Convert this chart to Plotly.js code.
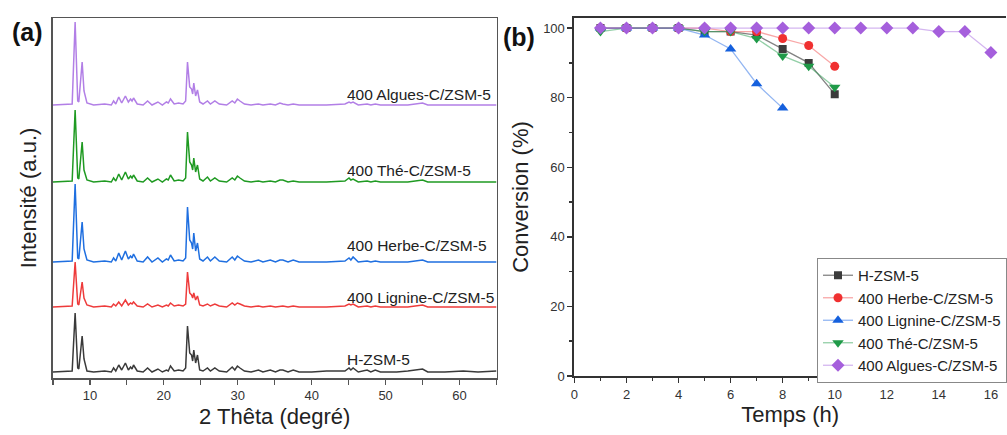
<!DOCTYPE html>
<html><head><meta charset="utf-8">
<script src="https://cdn.plot.ly/plotly-3.0.1.min.js"></script>
<style>html,body{margin:0;padding:0;overflow:hidden;background:#fff}#chart{width:1007px;height:435px}</style>
</head><body><div id="chart"></div>
<script>
// ---------- Panel (a): XRD patterns ----------
const twoTheta = [5, 6.5, 7.6, 8.0, 8.35, 8.5, 8.95, 9.2, 9.6, 10.5,
  12.0, 12.9, 13.2, 13.5, 13.9, 14.3, 14.8, 15.2, 15.5, 15.7,
  15.9, 16.4, 17.2, 17.8, 18.4, 19.2, 19.8, 20.35, 20.6, 20.9,
  21.4, 22.0, 22.6, 22.95, 23.2, 23.5, 23.75, 23.9, 24.05, 24.3,
  24.55, 24.85, 25.3, 25.9, 26.3, 26.9, 27.5, 28.5, 29.25, 29.6,
  29.95, 30.3, 30.9, 31.8, 32.8, 33.4, 34.4, 35.1, 35.7, 36.1,
  36.8, 37.5, 38.3, 40.0, 42.0, 44.5, 45.05, 45.3, 45.6, 46.3,
  47.5, 48.0, 48.6, 49.3, 51.5, 53.0, 55.0, 55.7, 58.0, 60.5,
  62.5, 65];

const xrdHZSM5 = [1, 2, 2, 60, 5, 4, 37, 14, 2, 1,
  2, 1, 5, 2, 8, 3, 10, 3, 6, 4,
  8, 2, 1, 5, 1, 4, 1, 3, 2, 7,
  2, 3, 2, 5, 47, 20, 18, 12, 23, 10,
  18, 3, 2, 5, 2, 5, 2, 1, 6, 3,
  7, 5, 2, 1, 3, 1, 3, 1, 3, 3,
  1, 3, 1, 1, 2, 2, 5, 3, 5, 1,
  3, 1, 3, 1, 1, 2, 4, 1, 1, 2,
  1, 2];
const xrdLignine = [0, 1, 1, 45, 3, 2, 25, 9, 2, 0,
  1, 0, 3, 1, 5, 1, 7, 2, 4, 3,
  5, 1, 0, 3, 0, 2, 0, 2, 1, 4,
  1, 2, 1, 3, 35, 14, 12, 9, 14, 7,
  11, 2, 1, 3, 1, 3, 1, 0, 4, 2,
  4, 3, 1, 0, 1, 0, 1, 0, 1, 1,
  0, 1, 0, 0, 0, 1, 3, 2, 3, 0,
  1, 0, 1, 0, 0, 0, 2, 0, 0, 0,
  0, 0];
const xrdHerbe = [0, 1, 1, 78, 4, 3, 40, 13, 2, 0,
  1, 0, 4, 1, 9, 2, 11, 3, 6, 4,
  8, 1, 0, 5, 0, 4, 0, 3, 2, 7,
  1, 2, 1, 4, 55, 22, 19, 13, 29, 11,
  19, 3, 1, 5, 1, 5, 1, 0, 5, 2,
  6, 4, 1, 0, 2, 0, 2, 0, 2, 2,
  0, 2, 0, 0, 0, 1, 4, 2, 5, 0,
  1, 0, 1, 0, 0, 0, 2, 0, 0, 0,
  0, 0];
const xrdThe = [0, 1, 1, 72, 4, 3, 40, 12, 2, 0,
  1, 0, 4, 1, 8, 2, 10, 3, 6, 4,
  7, 1, 0, 4, 0, 3, 0, 3, 2, 7,
  1, 2, 1, 4, 50, 20, 17, 12, 24, 10,
  17, 3, 1, 5, 1, 4, 1, 0, 4, 2,
  6, 4, 1, 0, 1, 0, 1, 0, 2, 2,
  0, 1, 0, 0, 0, 1, 4, 2, 3, 0,
  1, 0, 1, 0, 0, 0, 2, 0, 0, 0,
  0, 0];
const xrdAlgues = [0, 1, 1, 83, 4, 3, 43, 14, 2, 0,
  1, 0, 4, 1, 8, 2, 9, 3, 6, 4,
  7, 1, 0, 4, 0, 3, 0, 3, 2, 6,
  1, 2, 1, 4, 43, 18, 16, 11, 22, 9,
  15, 3, 1, 4, 1, 4, 1, 0, 4, 2,
  6, 4, 1, 0, 1, 0, 1, 0, 2, 1,
  0, 1, 0, 0, 0, 1, 3, 2, 3, 0,
  1, 0, 1, 0, 0, 0, 2, 0, 0, 0,
  0, 0];
const xrdOffsets = [5, 71, 116, 196, 273];
const sampleNames = ['H-ZSM-5', '400 Lignine-C/ZSM-5', '400 Herbe-C/ZSM-5', '400 Thé-C/ZSM-5', '400 Algues-C/ZSM-5'];

// ---------- Panel (b): conversion vs time ----------
const timeH = [1, 2, 3, 4, 5, 6, 7, 8, 9, 10, 11, 12, 13, 14, 15, 16];
const convHZSM5 = [100, 100, 100, 100, 99, 99, 98, 94, 90, 81];
const convHerbe = [100, 100, 100, 100, 100, 99, 99, 97, 95, 89];
const convLignine = [100, 100, 100, 100, 98, 94, 84, 77];
const convThe = [99, 100, 100, 100, 99, 99, 97, 92, 89, 83];
const convAlgues = [100, 100, 100, 100, 100, 100, 100, 100, 100, 100, 100, 100, 100, 99, 99, 93];
const legendNames = ['H-ZSM-5', '400 Herbe-C/ZSM-5', '400 Lignine-C/ZSM-5', '400 Thé-C/ZSM-5', '400 Algues-C/ZSM-5'];

const FONT = 'Arial, "Liberation Sans", sans-serif';
const xrdSeries = [xrdHZSM5, xrdLignine, xrdHerbe, xrdThe, xrdAlgues];
const xrdColors = ['#3a3a3a', '#ee3b3b', '#1f6fe0', '#1f9a22', '#b27fe6'];

const traces = [];
xrdSeries.forEach((s, i) => {
  traces.push({
    type: 'scatter', mode: 'lines', x: twoTheta,
    y: s.map(v => v + xrdOffsets[i]),
    line: {color: xrdColors[i], width: 1.5},
    xaxis: 'x', yaxis: 'y', showlegend: false, hoverinfo: 'skip', name: sampleNames[i]
  });
});

const convSeries = [convHZSM5, convHerbe, convLignine, convThe, convAlgues];
const markerColors = ['#3c3c3c', '#f03030', '#1560dd', '#1f9a48', '#a55fdc'];
const lineColors = ['rgba(90,90,90,0.75)', 'rgba(240,60,60,0.45)', 'rgba(40,110,230,0.5)', 'rgba(40,160,80,0.5)', 'rgba(170,110,225,0.5)'];
const symbols = ['square', 'circle', 'triangle-up', 'triangle-down', 'diamond'];
const msizes = [8, 9, 10, 10, 10];
convSeries.forEach((s, i) => {
  traces.push({
    type: 'scatter', mode: 'lines+markers', x: timeH.slice(0, s.length), y: s,
    name: legendNames[i], xaxis: 'x2', yaxis: 'y2',
    line: {color: lineColors[i], width: 1.3},
    marker: {symbol: symbols[i], color: markerColors[i], size: msizes[i]}
  });
});

const labelY = [19, 81, 133, 208, 283];
const annotations = sampleNames.map((n, i) => ({
  xref: 'x', yref: 'y', x: 44.5, y: labelY[i], text: n, showarrow: false,
  xanchor: 'left', yanchor: 'middle', font: {size: 15.5, color: '#222', family: FONT}
}));
annotations.push({xref: 'paper', yref: 'paper', x: 28 / 1007, y: 1 - 32 / 435, text: '<b>(a)</b>', showarrow: false,
  xanchor: 'center', yanchor: 'middle', font: {size: 25, color: '#111', family: FONT}});
annotations.push({xref: 'paper', yref: 'paper', x: 520 / 1007, y: 1 - 37 / 435, text: '<b>(b)</b>', showarrow: false,
  xanchor: 'center', yanchor: 'middle', font: {size: 25, color: '#111', family: FONT}});

const layout = {
  width: 1007, height: 435,
  margin: {l: 0, r: 0, t: 0, b: 0},
  paper_bgcolor: '#fff', plot_bgcolor: '#fff',
  font: {family: FONT, color: '#222'},
  showlegend: true,
  xaxis: {domain: [53 / 1007, 497 / 1007], range: [5, 65], anchor: 'y',
    showline: true, linecolor: '#555', linewidth: 1.5, mirror: true,
    ticks: 'outside', ticklen: 5, tickwidth: 1.2, tickcolor: '#555', tick0: 0, dtick: 10,
    minor: {dtick: 5, ticks: 'outside', ticklen: 5, tickwidth: 1.2, tickcolor: '#555'},
    showgrid: false, zeroline: false, tickfont: {size: 13, color: '#333'},
    title: {text: '2 Thêta (degré)', font: {size: 22, color: '#222'}, standoff: 6}},
  yaxis: {domain: [57 / 435, 417 / 435], range: [0, 360], anchor: 'x',
    showline: true, linecolor: '#555', linewidth: 1.5, mirror: true,
    showticklabels: false, ticks: '', showgrid: false, zeroline: false,
    title: {text: 'Intensité (a.u.)', font: {size: 22, color: '#222'}, standoff: 8}},
  xaxis2: {domain: [575 / 1007, 1], range: [0, 16.58], anchor: 'y2',
    showline: true, linecolor: '#333', linewidth: 2, mirror: true,
    ticks: 'outside', ticklen: 5, tickwidth: 1.5, tickcolor: '#333', tick0: 0, dtick: 2,
    minor: {dtick: 1, ticks: 'outside', ticklen: 3, tickwidth: 1.5, tickcolor: '#333'},
    showgrid: false, zeroline: false, tickfont: {size: 13, color: '#333'},
    title: {text: 'Temps (h)', font: {size: 22, color: '#222'}, standoff: 6}},
  yaxis2: {domain: [59 / 435, 417 / 435], range: [0, 102.9], anchor: 'x2',
    showline: true, linecolor: '#333', linewidth: 2, mirror: false,
    ticks: 'outside', ticklen: 5, tickwidth: 1.5, tickcolor: '#333', tick0: 0, dtick: 20,
    minor: {dtick: 10, ticks: 'outside', ticklen: 3, tickwidth: 1.5, tickcolor: '#333'},
    showgrid: false, zeroline: false, tickfont: {size: 13, color: '#333'},
    title: {text: 'Conversion (%)', font: {size: 22, color: '#222'}, standoff: 8}},
  legend: {x: 818 / 1007, y: 1 - 258 / 435, xanchor: 'left', yanchor: 'top',
    bgcolor: '#fff', bordercolor: '#888', borderwidth: 1,
    font: {size: 15, color: '#222', family: FONT}, itemwidth: 30, tracegroupgap: 0},
  annotations: annotations
};

Plotly.newPlot('chart', traces, layout, {displayModeBar: false, staticPlot: true});
</script>
</body></html>
